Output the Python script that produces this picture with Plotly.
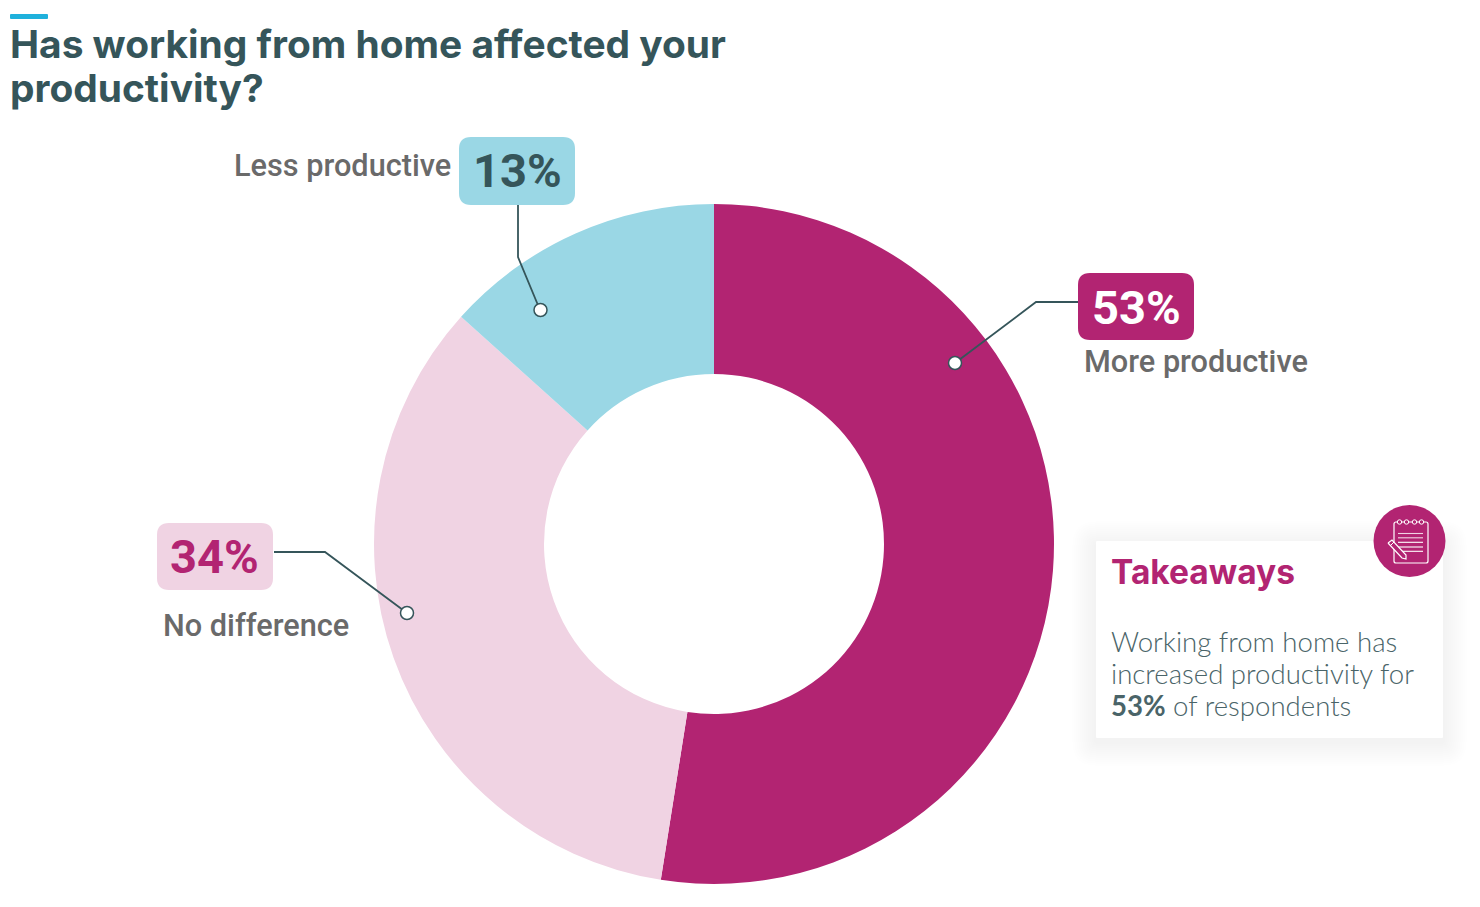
#!/usr/bin/env python3
"""Dona: efecto del trabajo desde casa sobre la productividad.

Tres sectores con etiquetas, líneas guía y una tarjeta de conclusiones.
Exporta un HTML autocontenido (out.html).
"""
import plotly.graph_objects as go

W, H = 1480, 907               # tamaño de la página en píxeles

CATEGORIES = ["More productive", "No difference", "Less productive"]
VALUES = [52.5, 34.15, 13.35]
COLORS = ["#b22472", "#f0d3e3", "#9ad7e5"]

DARK = "#35555a"
GREY = "#6a6a6a"
MAGENTA = "#b22472"


def px(x):
    """Píxel horizontal a coordenada paper."""
    return x / W


def py(y):
    """Píxel vertical (desde arriba) a coordenada paper."""
    return 1 - y / H


def round_box(x0, y0, x1, y1, r, color):
    """Rectángulo de esquinas redondeadas como path SVG."""
    X0, X1, Y0, Y1 = px(x0), px(x1), py(y0), py(y1)
    rx, ry = r / W, r / H
    path = (
        f"M {X0 + rx} {Y0} L {X1 - rx} {Y0} Q {X1} {Y0} {X1} {Y0 - ry} "
        f"L {X1} {Y1 + ry} Q {X1} {Y1} {X1 - rx} {Y1} L {X0 + rx} {Y1} "
        f"Q {X0} {Y1} {X0} {Y1 + ry} L {X0} {Y0 - ry} Q {X0} {Y0} {X0 + rx} {Y0} Z"
    )
    return dict(type="path", xref="paper", yref="paper", path=path,
                fillcolor=color, line=dict(width=0))


def polyline(points, color=DARK, width=1.8):
    """Línea quebrada abierta entre píxeles."""
    path = "M " + " L ".join(f"{px(x)} {py(y)}" for x, y in points)
    return dict(type="path", xref="paper", yref="paper", path=path,
                line=dict(color=color, width=width))


def circle(cx, cy, r, fill, line_color=None, width=0):
    """Círculo centrado en píxeles."""
    return dict(type="circle", xref="paper", yref="paper",
                x0=px(cx - r), x1=px(cx + r), y0=py(cy + r), y1=py(cy - r),
                fillcolor=fill, line=dict(color=line_color, width=width))


def label(x, y, text, size, color, family="Roboto", weight=400, anchor="left"):
    """Texto suelto, centrado en vertical sobre y."""
    return dict(x=px(x), y=py(y), xref="paper", yref="paper", text=text,
                showarrow=False, xanchor=anchor, yanchor="middle", align=anchor,
                borderpad=0, font=dict(family=family, size=size, color=color, weight=weight))


def main():
    fig = go.Figure(go.Pie(
        labels=CATEGORIES, values=VALUES, hole=0.5, sort=False,
        direction="clockwise", rotation=0, textinfo="none", showlegend=False,
        marker=dict(colors=COLORS, line=dict(width=0)),
        domain=dict(x=[px(374), px(1054)], y=[py(884), py(204)]),
    ))

    shapes = [round_box(10, 14, 48, 19, 1, "#1fb1dc")]

    # Sombra difusa de la tarjeta: rectángulos translúcidos apilados.
    for k in range(24, 0, -2):
        shapes.append(round_box(1096 - k, 541 - k + 4, 1443 + k, 738 + k + 4, k,
                                "rgba(0,0,0,0.003)"))
    shapes.append(round_box(1096, 541, 1443, 738, 1, "#ffffff"))

    # Cajas de porcentaje
    shapes += [
        round_box(459, 137, 575, 205, 12, COLORS[2]),
        round_box(1078, 273, 1194, 340, 12, COLORS[0]),
        round_box(157, 523, 273, 590, 12, COLORS[1]),
    ]

    # Líneas guía con su punto final
    shapes += [
        polyline([(518, 205), (518, 257), (540, 310)]),
        polyline([(1078, 302), (1036, 302), (955, 363)]),
        polyline([(274, 552), (325, 552), (407, 613)]),
        circle(540.5, 310, 6.5, "#ffffff", DARK, 1.5),
        circle(955, 363, 6.5, "#ffffff", DARK, 1.5),
        circle(407, 613, 6.5, "#ffffff", DARK, 1.5),
    ]

    # Icono de libreta
    shapes.append(circle(1409.5, 541, 36, MAGENTA))
    shapes.append(round_box(1394, 522, 1428, 563, 2, "rgba(0,0,0,0)"))
    shapes[-1]["line"] = dict(color="#ffffff", width=1.2)
    for cx in (1399.5, 1406.5, 1414.5, 1421.5):
        shapes.append(circle(cx, 522, 2.2, MAGENTA, "#ffffff", 1))
    for y, c in ((533.5, "#f0d3e3"), (537.8, "#f0d3e3"), (542.3, "#ffffff"),
                 (547, "#ffffff"), (551.3, "#ffffff")):
        shapes.append(polyline([(1398, y), (1423, y)], c, 1.1))
    shapes.append(polyline([(1388, 543), (1392, 540), (1406, 555), (1406, 559),
                            (1402, 558), (1388, 543)], "#ffffff", 1.2))
    shapes[-1]["fillcolor"] = MAGENTA
    shapes.append(polyline([(1390, 546), (1394, 542)], "#ffffff", 1))

    annotations = [
        label(9, 43, "Has working from home affected your", 38.9, DARK, "Inter", 700),
        label(9, 88, "productivity?", 38.9, DARK, "Inter", 700),
        label(233, 166, "Less productive", 30.7, GREY, "Roboto", 500),
        label(517, 171, "13%", 47, DARK, "Roboto", 700, "center"),
        label(1136, 307, "53%", 47, "#ffffff", "Roboto", 700, "center"),
        label(1083, 361, "More productive", 30.7, GREY, "Roboto", 500),
        label(215, 556, "34%", 47, MAGENTA, "Roboto", 700, "center"),
        label(162, 625, "No difference", 30.7, GREY, "Roboto", 500),
        label(1110, 572, "Takeaways", 33.5, MAGENTA, "Inter", 700),
        label(1110, 641, "Working from home has", 27.6, "#4a6468", "Lato", 300),
        label(1110, 673, "increased productivity for", 27.6, "#4a6468", "Lato", 300),
        label(1110, 705, "<b>53%</b> of respondents", 27.6, "#4a6468", "Lato", 300),
    ]

    fig.update_layout(
        width=W, height=H, margin=dict(l=0, r=0, t=0, b=0),
        paper_bgcolor="#ffffff", shapes=shapes, annotations=annotations,
    )

    fig.write_html("out.html", config={"displayModeBar": False},
                   post_script="document.body.style.margin = '0';")


if __name__ == "__main__":
    main()
